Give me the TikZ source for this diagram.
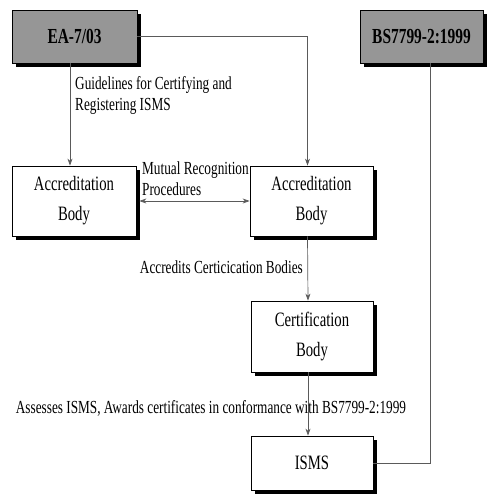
\documentclass[tikz,border=0pt]{standalone}
\usepackage{fontspec}
\setmainfont{Liberation Serif}[FakeStretch=0.72]
\usepackage{tikz}
\usetikzlibrary{arrows.meta, positioning, calc, shadows}
\definecolor{linegray}{RGB}{90,90,90}
\definecolor{stdgray}{RGB}{150,150,150}

\tikzset{
    bodybox/.style={draw=black, thick, fill=white, align=center,
        font=\fontsize{20.5}{30}\selectfont,
        drop shadow={shadow xshift=4bp, shadow yshift=-4bp, fill=black, opacity=1}},
    stdbox/.style={bodybox, fill=stdgray, font=\fontsize{21.5}{24}\selectfont\bfseries},
    flow/.style={linegray, line width=0.7pt},
    lbl/.style={font=\fontsize{18.5}{21}\selectfont, align=left, inner sep=0pt}
}

\begin{document}
\begin{tikzpicture}[x=1bp, y=-1bp, >={Stealth[length=7bp, width=5bp]}]
    \useasboundingbox (0,0) rectangle (487,500);
    % ---- STANDARD ----
    \node[stdbox, minimum width=125bp, minimum height=53bp] (ea) at (74.5, 36.5) {EA-7/03};
    \node[stdbox, minimum width=123bp, minimum height=53bp] (bs) at (421.5, 36.5) {BS7799-2:1999};
    % ---- ENTI ----
    \node[bodybox, minimum width=124bp, minimum height=70bp] (lab) at (74, 201) {Accreditation\\Body};
    \node[bodybox, minimum width=123bp, minimum height=70bp] (rab) at (311.5, 201) {Accreditation\\Body};
    \node[bodybox, minimum width=122bp, minimum height=71bp] (cert) at (312, 336.5) {Certification\\Body};
    \node[bodybox, minimum width=122bp, minimum height=54bp] (isms) at (312, 463) {ISMS};

    % ---- COLLEGAMENTI ----
    \draw[flow, ->] ([xshift=-4.5bp]ea.south) -- ([xshift=-4bp]lab.north);
    \draw[flow, ->] (ea.east) -| ([xshift=-4bp]rab.north);
    \draw[flow, <->] ([xshift=3bp]lab.east) -- (rab.west);
    \draw[flow, ->] ([xshift=-4bp]rab.south) -- ([xshift=-4bp]cert.north);
    \draw[flow, ->] ([xshift=-4bp]cert.south) -- ([xshift=-4bp]isms.north);
    \draw[flow] (isms.east) -| ([xshift=8.5bp]bs.south);

    % ---- ETICHETTE ----
    \node[lbl, anchor=north west] (guide) at (75, 76) {Guidelines for Certifying and\\Registering ISMS};
    \node[lbl, anchor=south west] (mutual) at (142, 196) {Mutual Recognition\\Procedures};
    \node[lbl, anchor=east] (accr) at (303, 267) {Accredits Certicication Bodies};
    \node[lbl, anchor=center] (assess) at (211, 408)
        {Assesses ISMS, Awards certificates in conformance with BS7799-2:1999};
\end{tikzpicture}
\end{document}
